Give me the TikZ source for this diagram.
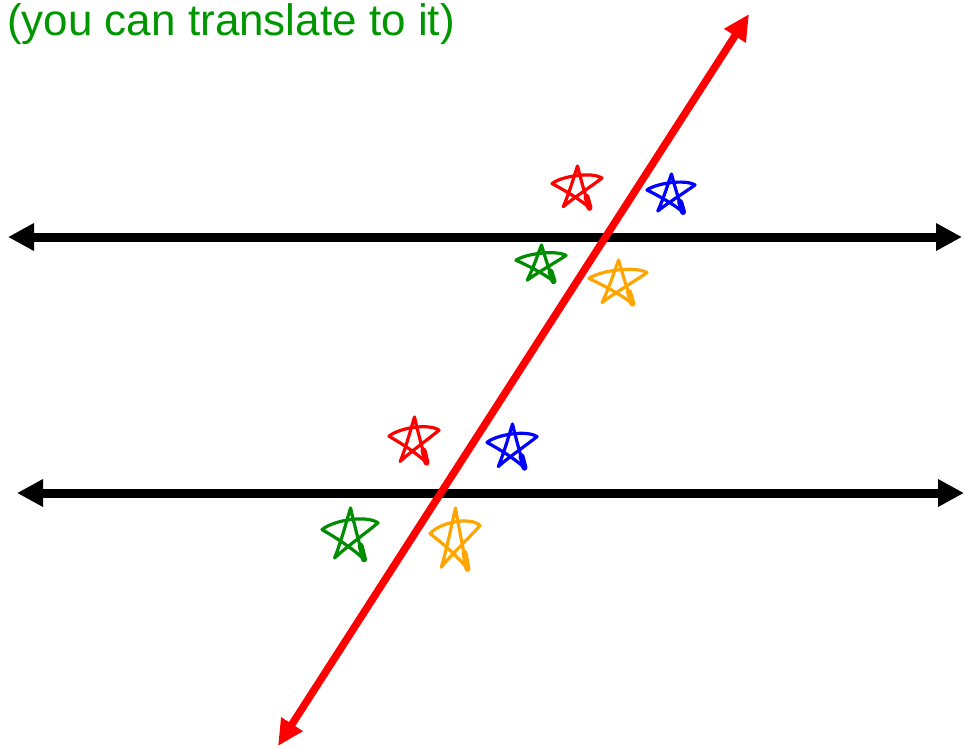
\documentclass[tikz,border=0pt]{standalone}
\usepackage{fontspec}
\setmainfont{Liberation Sans}
\usetikzlibrary{arrows.meta}
\definecolor{txtgreen}{RGB}{0,150,0}
\definecolor{stargreen}{RGB}{0,140,0}
\definecolor{starorange}{RGB}{255,165,0}
\tikzset{
  parline/.style={line width=9pt, black, {Triangle[length=26pt,width=26pt]}-{Triangle[length=26pt,width=26pt]}},
  transline/.style={line width=7.5pt, red, {Triangle[length=26pt,width=24pt]}-{Triangle[length=26pt,width=24pt]}},
  hstar/.pic={
    \draw[line width=3.2pt, line join=round, line cap=round, pic actions]
      (-0.55,0.85) .. controls (-0.3,0.2) and (-0.1,-0.6) .. (0.02,-1)
      .. controls (0.15,-0.4) and (0.35,0.4) .. (0.5,0.9)
      .. controls (0.1,0.5) and (-0.5,0.1) .. (-1,-0.2)
      .. controls (-0.6,-0.55) and (0.6,-0.75) .. (1,-0.45)
      .. controls (0.6,-0.1) and (-0.2,0.5) .. (-0.55,0.85);
    \draw[line width=6pt, line cap=round, pic actions] (0.38,0.4) -- (0.5,0.9);
  }
}
\begin{document}
\begin{tikzpicture}[x=1pt,y=-1pt]
\useasboundingbox (0,0) rectangle (964,748);
% text
\node[anchor=base west, inner sep=0pt, text=txtgreen, font=\fontsize{44}{52}\selectfont] (caption) at (7,35) {(you can translate to it)};
% parallel lines
\coordinate (ta) at (8,237);
\coordinate (tb) at (962,237);
\coordinate (ba) at (17,493);
\coordinate (bb) at (964,493);
\draw[parline] (ta) -- (tb);
\draw[parline] (ba) -- (bb);
% transversal
\coordinate (ra) at (278,746);
\coordinate (rb) at (749,14);
\draw[transline] (ra) -- (rb);
% stars at upper intersection
\pic[red, xscale=25, yscale=22] at (577,188) {hstar};
\pic[blue, xscale=24, yscale=20] at (671,194) {hstar};
\pic[stargreen, xscale=25, yscale=19] at (541,264) {hstar};
\pic[starorange, xscale=29, yscale=23] at (618,283) {hstar};
% stars at lower intersection
\pic[red, xscale=25, yscale=24] at (414,441) {hstar};
\pic[blue, xscale=25, yscale=23] at (512,447) {hstar};
\pic[stargreen, xscale=28, yscale=27] at (350,535) {hstar};
\pic[starorange, xscale=25, yscale=32] at (455,540) {hstar};
\end{tikzpicture}
\end{document}
